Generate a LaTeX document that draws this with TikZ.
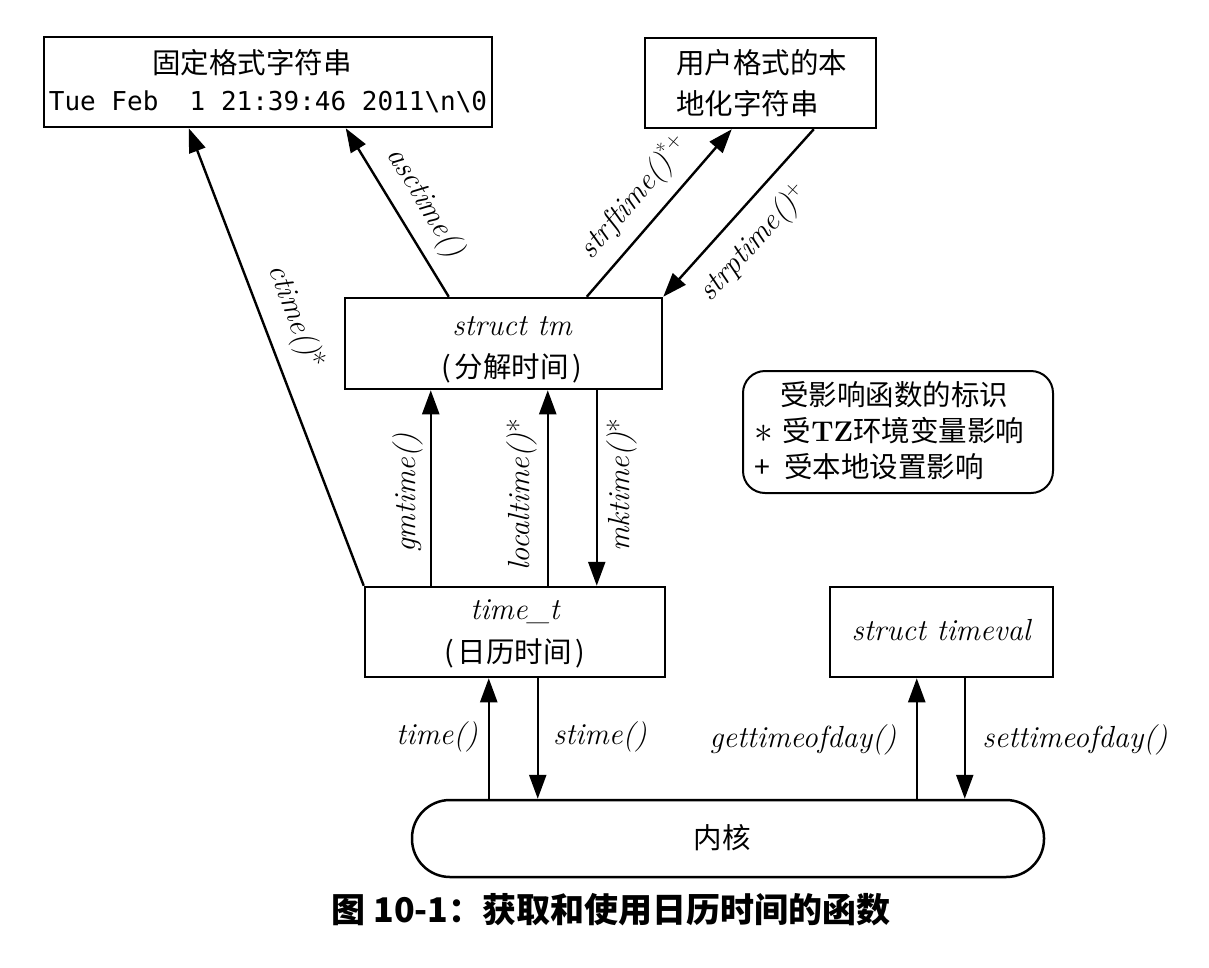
\documentclass[tikz,border=0pt]{standalone}
\usepackage{fontspec}
\newfontfamily\cjk{Noto Sans CJK SC}
\newfontfamily\mono{DejaVu Sans Mono}
\usetikzlibrary{arrows.meta}
\newcommand{\astsup}{{\upshape\fontsize{30}{30}\selectfont *}}
\begin{document}
\begin{tikzpicture}[x=1pt,y=-1pt,
  box/.style={draw, line width=2.5pt, inner sep=0pt},
  conn/.style={line width=2.4pt, -{Triangle[length=24pt,width=17pt]}},
  cj/.style={font=\cjk\fontsize{28.5}{34}\selectfont, inner sep=0pt},
  lab/.style={font=\fontsize{30.5}{36}\selectfont\itshape, inner sep=0pt},
]
\useasboundingbox[fill=white] (0,0) rectangle (1209,967);

% boxes
\node[box, minimum width=448pt, minimum height=90pt] (fixed) at (268,82) {};
\node[box, minimum width=231pt, minimum height=90pt] (user) at (760.5,83) {};
\node[box, minimum width=317pt, minimum height=91pt] (tm) at (503.5,343.5) {};
\node[box, minimum width=300pt, minimum height=90pt] (timet) at (515,632) {};
\node[box, minimum width=223pt, minimum height=90pt] (tv) at (941.5,632) {};
\node[box, minimum width=632pt, minimum height=77pt, rounded corners=38pt] (kernel) at (728,838.5) {};
\node[box, line width=2pt, minimum width=310pt, minimum height=122pt, rounded corners=22pt] (legend) at (898,432) {};

% box texts
\node[cj] (fixed1) at (252,63) {固定格式字符串};
\node[inner sep=0pt, font=\mono\fontsize{26}{30}\selectfont] (fixed2) at (268,102) {Tue Feb\ \ 1 21:39:46 2011\textbackslash n\textbackslash 0};
\node[cj, anchor=west] (user1) at (676,63) {用户格式的本};
\node[cj, anchor=west] (user2) at (676,104) {地化字符串};
\node[lab] (tm1) at (512,326) {struct tm};
\node[cj] (tm2) at (512,368) {(\kern4pt 分解时间\kern4pt)};
\node[lab] (tt1) at (515,612) {time\_t};
\node[cj] (tt2) at (515,653) {(\kern4pt 日历时间\kern4pt)};
\node[lab] (tv1) at (941,630) {struct timeval};
\node[cj] (k1) at (722,838) {内核};

% legend
\node[cj, anchor=west] (lg1) at (780,395) {受影响函数的标识};
\node[cj, anchor=west] (lg2) at (754,431) {\raisebox{-1pt}{\scalebox{1.5}{$\ast$}}\kern10pt 受{\rmfamily\bfseries TZ}环境变量影响};
\node[cj, anchor=west] (lg3) at (754,467) {+\kern14pt 受本地设置影响};

% connectors
\draw[conn] (timet.north west) -- ([xshift=146pt]fixed.south west);
\draw[conn] ([xshift=105pt]tm.north west) -- ([xshift=303pt]fixed.south west);
\draw[conn] ([xshift=243pt]tm.north west) -- ([xshift=88pt]user.south west);
\draw[conn] ([xshift=170pt]user.south west) -- (tm.north east);
\draw[conn] ([xshift=67pt]timet.north west) -- ([xshift=87pt]tm.south west);
\draw[conn] ([xshift=184pt]timet.north west) -- ([xshift=204pt]tm.south west);
\draw[conn] ([xshift=253pt]tm.south west) -- ([xshift=233pt]timet.north west);
\draw[conn] ([xshift=78pt]kernel.north west) -- ([xshift=125pt]timet.south west);
\draw[conn] ([xshift=174pt]timet.south west) -- ([xshift=127pt]kernel.north west);
\draw[conn] ([xshift=506pt]kernel.north west) -- ([xshift=88pt]tv.south west);
\draw[conn] ([xshift=136pt]tv.south west) -- ([xshift=554pt]kernel.north west);

% connector labels
\node[lab, rotate=-69] (lctime) at (295,317) {ctime()\astsup};
\node[lab, rotate=-59] (lasc) at (425,203) {asctime()};
\node[lab, rotate=49.5] (lstrf) at (634,197) {strftime()\textsuperscript{\upshape *+}};
\node[lab, rotate=48] (lstrp) at (754,243) {strptime()\textsuperscript{\upshape +}};
\node[lab, rotate=90] (lgm) at (408,493) {gmtime()};
\node[lab, rotate=90] (lloc) at (522,495) {localtime()\astsup};
\node[lab, rotate=90] (lmk) at (622,485) {mktime()\astsup};
\node[lab] (ltime) at (437,737) {time()};
\node[lab] (lstime) at (600,737) {stime()};
\node[lab] (lget) at (803,740) {gettimeofday()};
\node[lab] (lset) at (1075,740) {settimeofday()};

% caption
\node[inner sep=0pt, font=\cjk\bfseries\fontsize{34}{40}\selectfont] (cap) at (611,910) {图 10-1：获取和使用日历时间的函数};
\end{tikzpicture}
\end{document}
